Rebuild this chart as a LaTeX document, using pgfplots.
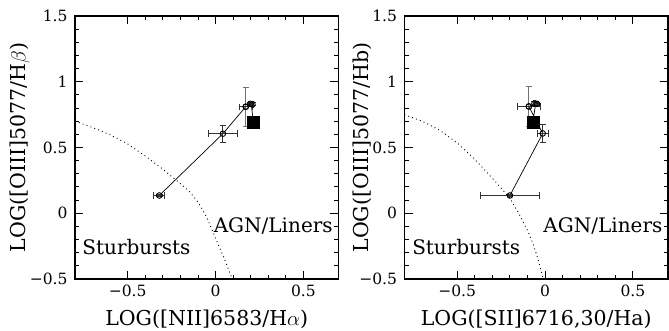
\documentclass[border=0pt]{standalone}
\usepackage{pgfplots}
\pgfplotsset{compat=1.18}
\usepackage{pgfplotstable}
\usepackage{fontspec}
\setmainfont{DejaVu Serif}

\pgfplotstableread{
x y ex ey
-0.320 0.135 0.031 0.010
0.042 0.605 0.083 0.065
0.198 0.832 0.008 0.012
0.210 0.828 0.008 0.012
}\leftpts
\pgfplotstableread{
x y ex ey
0.172 0.810 0.038 0.150
}\leftC
\pgfplotstableread{
x y
-0.320 0.135
0.042 0.605
0.172 0.810
0.203 0.832
0.216 0.689
}\leftpath
\pgfplotstableread{
x y
-0.80 0.700
-0.70 0.652
-0.60 0.597
-0.50 0.527
-0.40 0.435
-0.30 0.335
-0.20 0.225
-0.15 0.168
-0.10 0.085
-0.05 -0.030
0.00 -0.190
0.05 -0.345
0.095 -0.500
}\leftcurve

\pgfplotstableread{
x y ex ey
-0.200 0.135 0.170 0.010
-0.013 0.607 0.030 0.065
-0.060 0.835 0.008 0.012
-0.046 0.832 0.008 0.012
}\rightpts
\pgfplotstableread{
x y ex ey
-0.092 0.812 0.066 0.150
}\rightC
\pgfplotstableread{
x y
-0.200 0.135
-0.013 0.607
-0.092 0.812
-0.053 0.835
-0.070 0.689
}\rightpath
\pgfplotstableread{
x y
-0.80 0.750
-0.70 0.700
-0.60 0.632
-0.50 0.535
-0.40 0.410
-0.30 0.267
-0.20 0.115
-0.15 0.000
-0.10 -0.130
-0.066 -0.240
-0.04 -0.350
-0.01 -0.500
}\rightcurve

\tikzset{ann/.style={font=\fontsize{20}{24}\selectfont, inner sep=0pt, anchor=base west}}
\pgfplotsset{
  myaxis/.style={
    anchor=south west, scale only axis,
    width=263.5pt, height=263pt,
    xmin=-0.8, xmax=0.7, ymin=-0.5, ymax=1.5,
    xtick={-0.5,0,0.5}, xticklabels={\mbox{−0.5},\mbox{0},\mbox{0.5}},
    ytick={-0.5,0,0.5,1,1.5}, yticklabels={\mbox{−0.5},\mbox{0},\mbox{0.5},\mbox{1},\mbox{1.5}},
    minor x tick num=4, minor y tick num=4,
    tick align=inside, major tick length=8pt, minor tick length=4pt,
    axis line style={line width=1.3pt},
    every tick/.style={line width=0.9pt, black},
    tick label style={font=\fontsize{15.5}{18}\selectfont},
    xticklabel style={yshift=-2pt},
    yticklabel style={xshift=-4pt},
    label style={font=\fontsize{20.5}{24}\selectfont},
    clip=false,
  },
  pts/.style={only marks, mark=o, mark size=2.8pt, mark options={line width=0.9pt, black},
    error bars/.cd, x dir=both, x explicit, y dir=both, y explicit,
    error bar style={line width=0.9pt, black!80},
    error mark options={line width=0.9pt, black!80, mark size=3.2pt, rotate=90}},
  curvest/.style={black, line width=0.9pt, dash pattern=on 0.9pt off 3.2pt},
}

\begin{document}
\begin{tikzpicture}
\useasboundingbox (0,0) rectangle (669pt,331pt);
% left panel
\begin{axis}[myaxis, at={(75pt,52pt)},
  xlabel={LOG([NII]6583/H$\alpha$)},
  ylabel={LOG([OIII]5077/H$\beta$)},
  xlabel style={at={(axis description cs:0.5,-0.152)}, anchor=center},
  ylabel style={at={(axis description cs:-0.209,0.5)}, anchor=center},
]
\addplot[curvest] table[x=x,y=y] {\leftcurve};
\addplot[black, line width=0.7pt] table[x=x,y=y] {\leftpath};
\addplot[only marks, mark=o, mark size=2.8pt, mark options={line width=0.9pt, black},
  error bars/.cd, y dir=both, y explicit,
  error bar style={line width=1.2pt, black!55},
  error mark options={line width=1pt, black!55, mark size=3.2pt, rotate=90}]
  table[x=x,y=y,y error=ey] {\leftC};
\addplot[only marks, mark=o, mark size=2.8pt, mark options={line width=0.9pt, black},
  error bars/.cd, x dir=both, x explicit,
  error bar style={line width=0.9pt, black!80},
  error mark options={line width=0.9pt, black!80, mark size=3.2pt, rotate=90}]
  table[x=x,y=y,x error=ex] {\leftC};
\addplot[pts] table[x=x,y=y,x error=ex,y error=ey] {\leftpts};
\addplot[only marks, mark=square*, mark size=6pt, mark options={black}] coordinates {(0.216,0.689)};
\node[ann] at (axis cs:-0.759,-0.317) {Sturbursts};
\node[ann] at (axis cs:-0.011,-0.145) {AGN/Liners};
\end{axis}
% right panel
\begin{axis}[myaxis, at={(404.5pt,52pt)},
  xlabel={LOG([SII]6716,30/Ha)},
  ylabel={LOG([OIII]5077/Hb)},
  xlabel style={at={(axis description cs:0.5,-0.152)}, anchor=center},
  ylabel style={at={(axis description cs:-0.161,0.5)}, anchor=center},
]
\addplot[curvest] table[x=x,y=y] {\rightcurve};
\addplot[black, line width=0.7pt] table[x=x,y=y] {\rightpath};
\addplot[only marks, mark=o, mark size=2.8pt, mark options={line width=0.9pt, black},
  error bars/.cd, y dir=both, y explicit,
  error bar style={line width=1.2pt, black!55},
  error mark options={line width=1pt, black!55, mark size=3.2pt, rotate=90}]
  table[x=x,y=y,y error=ey] {\rightC};
\addplot[only marks, mark=o, mark size=2.8pt, mark options={line width=0.9pt, black},
  error bars/.cd, x dir=both, x explicit,
  error bar style={line width=0.9pt, black!80},
  error mark options={line width=0.9pt, black!80, mark size=3.2pt, rotate=90}]
  table[x=x,y=y,x error=ex] {\rightC};
\addplot[pts] table[x=x,y=y,x error=ex,y error=ey] {\rightpts};
\addplot[only marks, mark=square*, mark size=6pt, mark options={black}] coordinates {(-0.070,0.689)};
\node[ann] at (axis cs:-0.757,-0.317) {Sturbursts};
\node[ann] at (axis cs:-0.010,-0.145) {AGN/Liners};
\end{axis}
\end{tikzpicture}
\end{document}
